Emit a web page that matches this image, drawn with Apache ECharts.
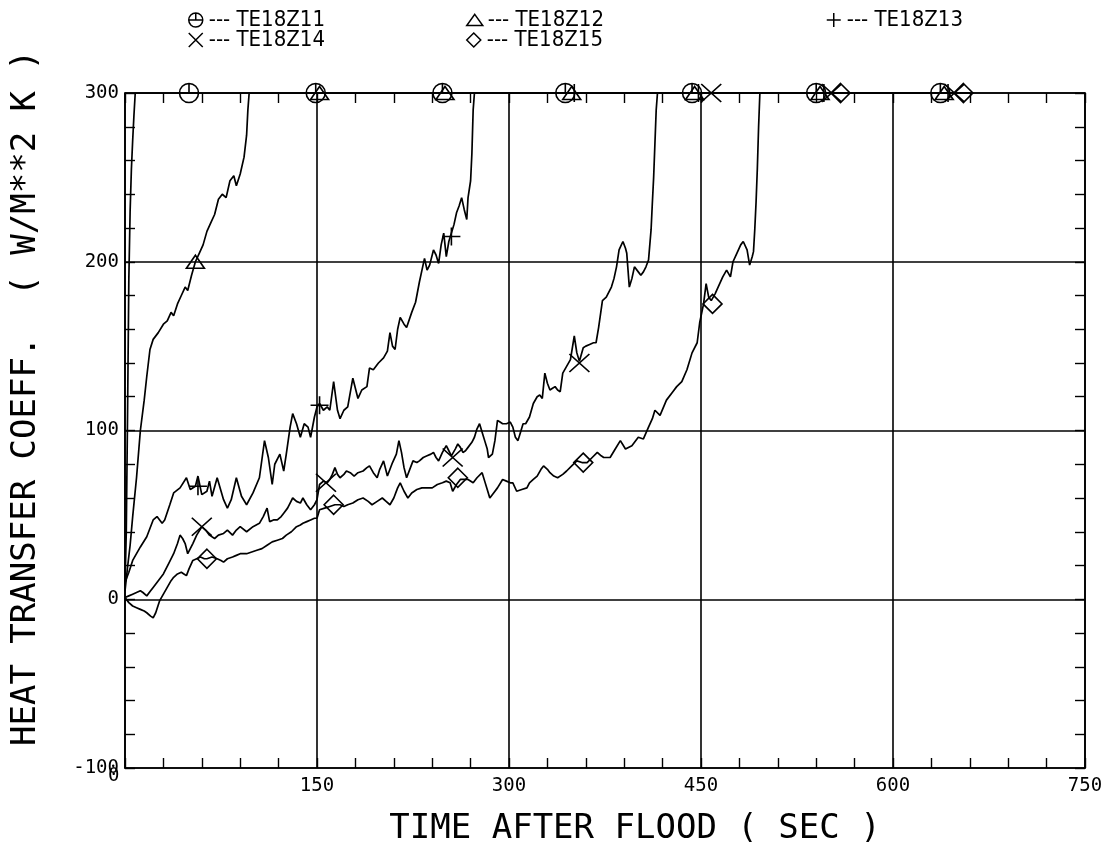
<!DOCTYPE html>
<html>
<head>
<meta charset="utf-8">
<script src="https://cdn.jsdelivr.net/npm/echarts@6/dist/echarts.min.js"></script>
<style>
html,body{margin:0;padding:0;background:#fff;}
#chart{width:1108px;height:846px;}
</style>
</head>
<body>
<div id="chart"></div>
<script>
// ---- data (time s, heat transfer coeff W/m2K) ----
const seriesNames = ['TE18Z11','TE18Z12','TE18Z13','TE18Z14','TE18Z15'];
const xTicks = [0,150,300,450,600,750];
const yTicks = [-100,0,100,200,300];

const TE18Z11 = [[0,8],[1,40],[2,110],[3,190],[4,230],[5,255],[6,272],[7,287],[8,300],[660,300]];

const TE18Z12 = [[0,5],[2,19],[4,32],[6,49],[9,72],[12,100],[15,118],[17,132],[19.5,148],[22,154],[26,158],[30,163],[33,165],[36,170],[38,168],[41,175],[44,180],[47,185],[49,183],[52,192],[55,200],[58,205],[61,210],[64,218],[67,223],[70,228],[73,237],[76,240],[79,238],[82,248],[85,251],[87,245],[90,252],[93,262],[95,275],[96,290],[97,300],[660,300]];

const TE18Z13 = [[0,10],[3,16],[6,23],[12,31],[17,37],[22,47],[25,49],[29,45],[31,47],[35,56],[38,63],[43,66],[48,72],[51,65],[55,67],[57,73],[60,62],[64,64],[66,70],[68,61],[72,72],[77,59],[80,54],[83,59],[87,72],[91,61],[95,56],[100,63],[105,72],[109,94],[112,84],[115,68],[117,80],[121,86],[124,76],[126,86],[129,102],[131,110],[134,104],[137,96],[140,104],[143,102],[145,96],[148,108],[150,114],[152,116],[155,112],[158,114],[160,112],[163,129],[166,112],[168,107],[171,112],[174,114],[178,131],[182,119],[185,124],[189,126],[191,137],[194,136],[198,140],[202,143],[205,147],[207,158],[209,150],[211,148],[213,160],[215,167],[218,163],[220,161],[224,170],[227,176],[230,188],[232,195],[234,202],[236,195],[238,198],[241,207],[243,204],[245,199],[247,210],[249,217],[251,203],[253,212],[255,217],[257,222],[259,229],[261,233],[263,238],[265,231],[267,225],[268,238],[270,248],[271,264],[272,290],[273,300],[660,300]];

const TE18Z14 = [[0,1],[3,2],[6,3],[9,4],[12,5],[14,4],[17,2],[20,5],[22,7],[26,11],[30,15],[34,21],[38,27],[41,33],[43,38],[45,36],[47,33],[49,27],[51,30],[53,33],[56,38],[60,43],[63,41],[66,38],[70,36],[73,38],[77,39],[80,41],[84,38],[87,41],[90,43],[95,40],[100,43],[105,45],[108,49],[111,54],[113,46],[116,47],[119,47],[122,49],[124,51],[127,54],[129,57],[131,60],[134,58],[137,57],[139,60],[142,56],[145,53],[148,56],[150,59],[152,68],[155,70],[158,69],[160,71],[162,74],[164,78],[166,74],[168,72],[171,74],[173,76],[176,75],[179,73],[182,75],[186,76],[189,78],[191,79],[194,75],[197,72],[199,77],[202,82],[205,73],[207,77],[209,81],[212,86],[214,94],[216,87],[218,78],[220,72],[223,78],[225,82],[228,81],[230,82],[233,84],[236,85],[239,86],[241,87],[243,84],[245,82],[248,87],[251,91],[253,88],[255,85],[258,89],[260,92],[262,90],[264,87],[266,88],[268,90],[271,93],[273,96],[275,101],[277,104],[279,99],[281,94],[283,89],[284,84],[287,86],[289,94],[291,106],[293,105],[295,104],[298,104],[301,105],[303,102],[305,96],[307,94],[309,99],[311,104],[313,104],[316,108],[319,116],[322,120],[324,121],[326,119],[328,134],[330,128],[332,124],[334,125],[336,126],[338,124],[340,123],[342,134],[345,138],[348,142],[351,156],[353,146],[355,141],[358,149],[360,150],[363,151],[366,152],[368,152],[370,161],[373,177],[376,179],[378,182],[380,185],[382,190],[384,197],[386,207],[389,212],[391,208],[392,205],[394,185],[396,190],[398,197],[401,194],[403,192],[405,194],[407,197],[409,201],[411,219],[412,235],[413,250],[414,270],[415,290],[416,300],[660,300]];

const TE18Z15 = [[0,1],[3,-2],[6,-4],[9,-5],[12,-6],[15,-7],[17,-8],[20,-10],[22,-11],[24,-8],[27,-1],[30,3],[33,7],[36,11],[38,13],[41,15],[44,16],[46,15],[48,14],[50,18],[53,23],[56,24],[59,25],[62,24],[64,24],[68,25],[72,24],[75,23],[77,22],[80,24],[84,25],[87,26],[90,27],[95,27],[99,28],[103,29],[107,30],[111,32],[115,34],[119,35],[123,36],[126,38],[130,40],[134,43],[137,44],[139,45],[142,46],[145,47],[148,48],[150,48],[152,53],[156,54],[160,55],[164,56],[168,56],[171,55],[174,56],[178,57],[182,59],[186,60],[190,58],[193,56],[197,58],[201,60],[204,58],[207,56],[210,60],[213,66],[215,69],[218,64],[221,60],[224,63],[228,65],[232,66],[236,66],[240,66],[244,68],[248,69],[251,70],[254,69],[256,64],[259,68],[262,71],[265,71],[268,71],[272,69],[275,72],[279,75],[281,70],[283,65],[285,60],[288,63],[291,66],[295,71],[298,70],[301,69],[303,69],[306,64],[307,63],[310,65],[314,66],[316,69],[319,71],[322,73],[325,77],[327,79],[330,77],[332,75],[335,73],[338,72],[342,74],[345,76],[349,79],[353,82],[357,81],[361,81],[365,84],[369,87],[372,85],[374,84],[379,84],[383,89],[387,94],[391,89],[396,91],[401,96],[405,95],[409,102],[412,107],[414,112],[418,109],[423,118],[428,123],[431,126],[435,129],[439,136],[443,146],[447,152],[449,164],[452,175],[454,187],[456,179],[458,177],[461,181],[464,186],[467,191],[470,195],[473,191],[475,200],[478,205],[481,210],[483,212],[486,207],[488,198],[490,203],[491,206],[492,219],[493,235],[494,255],[495,280],[496,300],[660,300]];

// marker positions (every ~98 s, off-scale values drawn at the top)
const M11 = [[50,300],[149,300],[248,300],[344,300],[443,300],[540,300],[637,300]];
const M12 = [[55,200],[152,300],[250,300],[349,300],[445,300],[543,300],[640,300]];
const M13 = [[57,67],[152,115],[255,215],[351,300],[448,300],[546,300],[643,300]];
const M14 = [[60,43],[157,69],[256,84],[355,140],[458,300],[552,300],[648,300]];
const M15 = [[64,24],[163,56],[260,72],[358,81],[459,175],[559,300],[655,300]];

const lineData = [TE18Z11, TE18Z12, TE18Z13, TE18Z14, TE18Z15];
const markData = [M11, M12, M13, M14, M15];

const SYM = [
  'path://M10,0 A10,10 0 1 1 9.99,0 Z M10,0 L10,10 M0,10 L20,10',
  'path://M10,0 L20,14 L0,14 Z',
  'path://M10,0 L10,20 M0,10 L20,10',
  'path://M0,0 L20,20 M20,0 L0,20',
  'path://M10,0 L20,10 L10,20 L0,10 Z'
];
const SYMSIZE = [[19,19],[18,13],[18,18],[20,18],[19,19]];

const FONT = "'DejaVu Sans Condensed','Liberation Sans Narrow','DejaVu Sans',sans-serif";
const MONO = "'DejaVu Sans Mono',monospace";

const chart = echarts.init(document.getElementById('chart'), null, {renderer:'canvas'});

const series = [];
seriesNames.forEach((n,i)=>{
  series.push({
    name:n, type:'line', data:lineData[i], showSymbol:false, symbol:'none',
    lineStyle:{color:'#000', width:1.7}, itemStyle:{color:'#000'},
    animation:false, clip:true, z:3
  });
  series.push({
    name:n, type:'scatter', data:markData[i], symbol:SYM[i], symbolSize:SYMSIZE[i],
    itemStyle:{color:'rgba(0,0,0,0)', borderColor:'#000', borderWidth:1.6, opacity:1},
    animation:false, clip:false, z:4
  });
});

const legendPos = [[188,9],[466,9],[826,9],[188,29],[466,29]];
const legends = seriesNames.map((n,i)=>({
  data:[{name:n, icon:SYM[i]}],
  left:legendPos[i][0], top:legendPos[i][1], padding:0,
  itemWidth:16, itemHeight:14, itemGap:4,
  selectedMode:false,
  itemStyle:{color:'rgba(0,0,0,0)', borderColor:'#000', borderWidth:1.5, opacity:1},
  formatter:'--- {name}',
  textStyle:{color:'#000', fontSize:22, fontFamily:FONT}
}));

const axisLineStyle = {color:'#000', width:1.7};
const tickStyle = {color:'#000', width:1.4};
chart.setOption({
  backgroundColor:'#fff',
  animation:false,
  grid:{left:125, right:23, top:93, bottom:78, containLabel:false},
  legend:legends,
  xAxis:[
    {type:'value', min:0, max:750, interval:150, position:'bottom',
     axisLine:{show:true, onZero:false, lineStyle:axisLineStyle},
     axisTick:{show:true, inside:true, length:10, lineStyle:tickStyle},
     minorTick:{show:true, splitNumber:5, length:10, lineStyle:tickStyle},
     splitLine:{show:true, lineStyle:{color:'#000', width:1.6}},
     axisLabel:{color:'#000', fontSize:19, fontFamily:MONO, margin:9,
       formatter:v=> v===0 ? '' : String(v)}},
    {type:'value', min:0, max:750, interval:150, position:'top',
     axisLine:{show:true, onZero:false, lineStyle:axisLineStyle},
     axisTick:{show:true, inside:true, length:10, lineStyle:tickStyle},
     minorTick:{show:true, splitNumber:5, length:10, lineStyle:tickStyle},
     splitLine:{show:false}, axisLabel:{show:false}}
  ],
  yAxis:[
    {type:'value', min:-100, max:300, interval:100, position:'left',
     axisLine:{show:true, onZero:false, lineStyle:axisLineStyle},
     axisTick:{show:true, inside:true, length:10, lineStyle:tickStyle},
     minorTick:{show:true, splitNumber:5, length:10, lineStyle:tickStyle},
     splitLine:{show:true, lineStyle:{color:'#000', width:1.6}},
     axisLabel:{color:'#000', fontSize:19, fontFamily:MONO, margin:6}},
    {type:'value', min:-100, max:300, interval:100, position:'right',
     axisLine:{show:true, onZero:false, lineStyle:axisLineStyle},
     axisTick:{show:true, inside:true, length:10, lineStyle:tickStyle},
     minorTick:{show:true, splitNumber:5, length:10, lineStyle:tickStyle},
     splitLine:{show:false}, axisLabel:{show:false}}
  ],
  graphic:[
    {type:'text', left:108, top:767, style:{text:'0', fill:'#000', font:"19px 'DejaVu Sans Mono',monospace"}},
    {type:'text', x:635, y:829,
     style:{text:'TIME AFTER FLOOD ( SEC )', fill:'#000', font:"34px 'DejaVu Sans Mono',monospace", align:'center', verticalAlign:'middle'}},
    {type:'text', x:26, y:398, rotation:Math.PI/2,
     style:{text:'HEAT TRANSFER COEFF.  ( W/M**2 K )', fill:'#000', font:"34px 'DejaVu Sans Mono',monospace", align:'center', verticalAlign:'middle'}}
  ],
  series:series
});
</script>
</body>
</html>
